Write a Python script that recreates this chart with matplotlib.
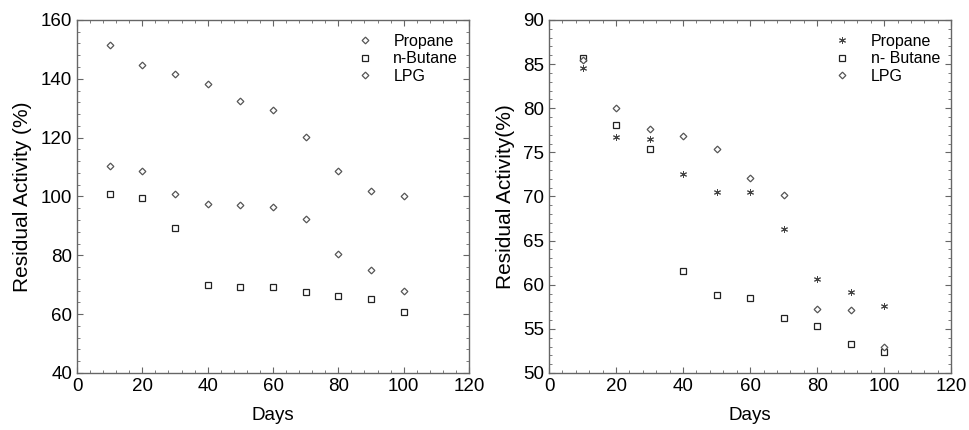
import matplotlib
matplotlib.use("Agg")
import matplotlib.pyplot as plt
from matplotlib.ticker import MultipleLocator

plt.rcParams['font.family'] = ['Liberation Sans', 'DejaVu Sans']

days = [10, 20, 30, 40, 50, 60, 70, 80, 90, 100]

# Panel (a)
a_propane = [151.4, 144.6, 141.7, 138.2, 132.3, 129.3, 120.3, 108.8, 102.0, 100.0]
a_butane = [100.8, 99.5, 89.2, 69.9, 69.3, 69.3, 67.5, 66.0, 65.2, 60.8]
a_lpg = [110.2, 108.6, 101.0, 97.5, 97.2, 96.3, 92.2, 80.4, 74.9, 67.8]

# Panel (b)
b_propane = [84.6, 76.7, 76.5, 72.6, 70.5, 70.5, 66.3, 60.7, 59.2, 57.6]
b_butane = [85.7, 78.1, 75.4, 61.6, 58.8, 58.5, 56.2, 55.3, 53.3, 52.4]
b_lpg = [85.5, 80.0, 77.7, 76.8, 75.4, 72.1, 70.2, 57.3, 57.1, 52.9]

fig = plt.figure(figsize=(9.69, 4.30), dpi=100)
ax1 = fig.add_axes([0.0795, 0.1326, 0.4045, 0.821])
ax2 = fig.add_axes([0.5666, 0.1326, 0.415, 0.821])

ec = '#555555'
spine_c = '#666666'
dms = 3.4
sms = 4.0

def style(ax):
    for s in ax.spines.values():
        s.set_color(spine_c)
        s.set_linewidth(1.0)
    ax.tick_params(which='both', direction='in', top=True, right=True,
                   colors=spine_c, labelcolor='black', labelsize=13.5)
    ax.tick_params(which='major', length=4)
    ax.tick_params(which='minor', length=2)
    ax.set_xlim(0, 120)
    ax.xaxis.set_major_locator(MultipleLocator(20))
    ax.xaxis.set_minor_locator(MultipleLocator(4))
    ax.set_xlabel('Days', fontsize=13.5, labelpad=9)

def legend(ax):
    ax.legend(loc='upper right', frameon=False, fontsize=11.5, handletextpad=1.3,
              borderaxespad=0.15, labelspacing=0.15, handlelength=1.0,
              bbox_to_anchor=(0.995, 0.985))

ax1.plot(days, a_propane, linestyle='none', marker='D', markersize=dms,
         markerfacecolor='white', markeredgecolor=ec, markeredgewidth=0.9, label='Propane')
ax1.plot(days, a_butane, linestyle='none', marker='s', markersize=sms,
         markerfacecolor='white', markeredgecolor='#222222', markeredgewidth=0.9, label='n-Butane')
ax1.plot(days, a_lpg, linestyle='none', marker='D', markersize=dms,
         markerfacecolor='white', markeredgecolor=ec, markeredgewidth=0.9, label='LPG')
style(ax1)
ax1.set_ylim(40, 160)
ax1.yaxis.set_major_locator(MultipleLocator(20))
ax1.yaxis.set_minor_locator(MultipleLocator(4))
ax1.set_ylabel('Residual Activity (%)', fontsize=15, labelpad=6)
legend(ax1)

ax2.plot(days, b_propane, linestyle='none', marker=(6, 2, 0), markersize=5,
         markeredgecolor='#444444', markeredgewidth=0.7, label='Propane')
ax2.plot(days, b_butane, linestyle='none', marker='s', markersize=sms,
         markerfacecolor='white', markeredgecolor='#222222', markeredgewidth=0.9, label='n- Butane')
ax2.plot(days, b_lpg, linestyle='none', marker='D', markersize=dms,
         markerfacecolor='white', markeredgecolor=ec, markeredgewidth=0.9, label='LPG')
style(ax2)
ax2.set_ylim(50, 90)
ax2.yaxis.set_major_locator(MultipleLocator(5))
ax2.yaxis.set_minor_locator(MultipleLocator(1))
ax2.set_ylabel('Residual Activity(%)', fontsize=15, labelpad=6)
legend(ax2)

fig.savefig('out.png', dpi=100)
